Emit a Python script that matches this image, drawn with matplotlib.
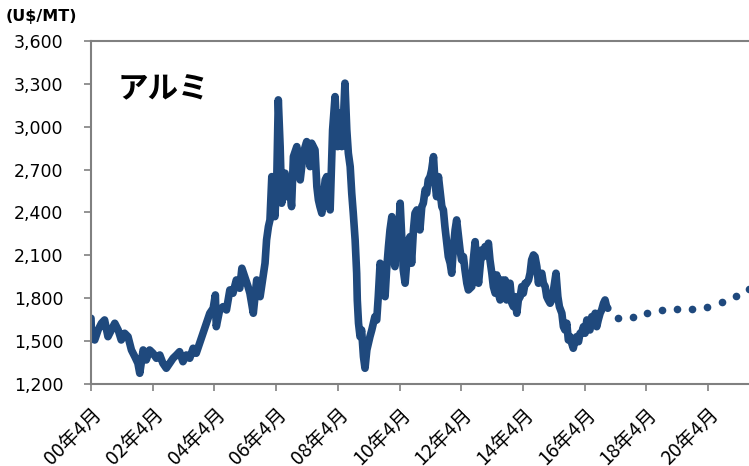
import numpy as np
import matplotlib.pyplot as plt

plt.rcParams['font.family'] = ['DejaVu Sans', 'Noto Sans CJK JP']

# aluminium price, US$/MT (decimal year, price)
years = [2000.25, 2000.27, 2000.37, 2000.48, 2000.59, 2000.69, 2000.80, 2000.91, 2001.02, 2001.13,
         2001.23, 2001.34, 2001.45, 2001.56, 2001.67, 2001.77, 2001.83, 2001.94, 2002.04, 2002.15,
         2002.26, 2002.37, 2002.48, 2002.58, 2002.69, 2002.80, 2002.91, 2003.02, 2003.12, 2003.23,
         2003.34, 2003.45, 2003.56, 2003.66, 2003.77, 2003.88, 2003.99, 2004.10, 2004.21, 2004.28,
         2004.31, 2004.42, 2004.53, 2004.64, 2004.75, 2004.85, 2004.96, 2005.07, 2005.14, 2005.23,
         2005.34,
         2005.40, 2005.51, 2005.62, 2005.73, 2005.84, 2005.89, 2005.94, 2006.00, 2006.05, 2006.11,
         2006.16, 2006.21, 2006.27, 2006.32, 2006.38, 2006.43, 2006.48, 2006.54, 2006.59, 2006.65,
         2006.70, 2006.75, 2006.81, 2006.92, 2007.03, 2007.13, 2007.24, 2007.35, 2007.40, 2007.51,
         2007.57, 2007.62, 2007.67, 2007.73, 2007.84, 2007.89, 2008.00, 2008.08, 2008.16, 2008.24,
         2008.30, 2008.38, 2008.43, 2008.48, 2008.54, 2008.59, 2008.65, 2008.70, 2008.75, 2008.81,
         2008.86, 2008.88, 2008.92, 2008.97, 2009.02, 2009.08, 2009.13, 2009.19, 2009.24, 2009.29,
         2009.35, 2009.40, 2009.45, 2009.51, 2009.56, 2009.62, 2009.67, 2009.73, 2009.78, 2009.83,
         2009.89, 2009.94, 2010.00, 2010.05, 2010.10, 2010.16, 2010.21, 2010.27, 2010.32, 2010.37,
         2010.43, 2010.48, 2010.54, 2010.59, 2010.64, 2010.70, 2010.75, 2010.81, 2010.86, 2010.91,
         2010.97, 2011.02, 2011.08, 2011.13, 2011.18, 2011.24, 2011.29, 2011.35, 2011.40, 2011.45,
         2011.51, 2011.56, 2011.62, 2011.67, 2011.72, 2011.78, 2011.83, 2011.89, 2011.94, 2011.99,
         2012.05, 2012.10, 2012.16, 2012.21, 2012.26, 2012.32, 2012.37, 2012.43, 2012.48,
         2012.59, 2012.64, 2012.70, 2012.75, 2012.81, 2012.86, 2012.91, 2012.97, 2013.02, 2013.08,
         2013.13, 2013.18, 2013.24, 2013.29, 2013.35, 2013.40, 2013.45, 2013.51, 2013.56, 2013.62,
         2013.67, 2013.72, 2013.78, 2013.83, 2013.89, 2013.94, 2013.99, 2014.05, 2014.10, 2014.16,
         2014.21, 2014.26, 2014.32, 2014.37, 2014.43, 2014.48, 2014.53, 2014.59, 2014.64, 2014.70,
         2014.75, 2014.80, 2014.86, 2014.91, 2014.97, 2015.02, 2015.07, 2015.13, 2015.18, 2015.24,
         2015.32, 2015.38, 2015.43, 2015.51, 2015.56, 2015.61, 2015.67, 2015.72, 2015.78, 2015.83,
         2015.88, 2015.94, 2015.99, 2016.05, 2016.10, 2016.15, 2016.21, 2016.26, 2016.32, 2016.37,
         2016.42, 2016.48, 2016.53, 2016.59, 2016.64, 2016.69, 2016.75, 2016.80, 2016.86, 2016.91,
         2016.96, 2017.00]
prices = [1660, 1520, 1508, 1578, 1625, 1648, 1531, 1578, 1625, 1578,
          1508, 1555, 1531, 1438, 1391, 1345, 1275, 1438, 1368, 1438,
          1415, 1380, 1403, 1345, 1310, 1345, 1380, 1403, 1426, 1356,
          1403, 1380, 1450, 1415, 1485, 1555, 1625, 1695, 1730, 1823,
          1601, 1718, 1741, 1718, 1858, 1835, 1928, 1870, 2010, 1951,
          1881,
          1835, 1695, 1928, 1811, 1975, 2045, 2208, 2301, 2348, 2651,
          2441, 2371, 2628, 3188, 2861, 2465, 2628, 2675, 2511, 2628,
          2558, 2441, 2791, 2861, 2628, 2815, 2896, 2721, 2885, 2838,
          2581, 2488, 2441, 2395, 2628, 2651, 2418, 2978, 3211, 2861,
          3095, 2861, 3048, 3305, 2978, 2815, 2721, 2535, 2395, 2208,
          1975, 1788, 1625, 1531, 1578, 1391, 1310, 1438, 1485, 1531,
          1578, 1625, 1671, 1648, 1811, 2045, 1998, 1858, 1811, 1998,
          2161, 2278, 2371, 2091, 2021, 2278, 2231, 2465, 2231, 1998,
          1905, 2045, 2208, 2231, 2045, 2278, 2395, 2418, 2371, 2278,
          2441, 2465, 2558, 2535, 2628, 2651, 2698, 2791, 2605, 2511,
          2651, 2558, 2441, 2418, 2301, 2185, 2091, 2045, 1975, 2138,
          2278, 2348, 2231, 2138, 2068, 2091, 1998, 1905, 1858,
          1881, 2068, 2196, 2021, 1905, 2021, 2138, 2091, 2161, 2138,
          2185, 2068, 1975, 1881, 1835, 1963, 1835, 1788, 1928, 1881,
          1928, 1788, 1881, 1905, 1765, 1741, 1811, 1695, 1788, 1811,
          1881, 1835, 1905, 1905, 1928, 1975, 2068, 2103, 2091, 2021,
          1905, 1951, 1975, 1905, 1881, 1811, 1788, 1765, 1788, 1858,
          1975, 1811, 1741, 1695, 1601, 1578, 1625, 1508, 1531, 1485,
          1450, 1508, 1531, 1496, 1555, 1555, 1601, 1555, 1648, 1601,
          1578, 1671, 1648, 1695, 1601, 1648, 1695, 1718, 1765, 1788,
          1741, 1730]

# forecast (dotted)
fc_years = [2017.32, 2017.81, 2018.28, 2018.76, 2019.24, 2019.74, 2020.23, 2020.70, 2021.17, 2021.58]
fc_prices = [1664, 1667, 1695, 1718, 1725, 1725, 1741, 1774, 1816, 1865]

ytick_vals = [1200, 1500, 1800, 2100, 2400, 2700, 3000, 3300, 3600]
xtick_years = [2000, 2002, 2004, 2006, 2008, 2010, 2012, 2014, 2016, 2018, 2020]
xtick_labels = ['00年4月', '02年4月', '04年4月', '06年4月', '08年4月', '10年4月',
                '12年4月', '14年4月', '16年4月', '18年4月', '20年4月']

blue = '#1f497d'
grey = '#808080'

fig = plt.figure(figsize=(7.49, 4.66), dpi=100)
ax = fig.add_axes([0.1215, 0.176, 0.896, 0.736])

ax.plot(years, prices, color=blue, lw=5.5, solid_joinstyle='round', solid_capstyle='round')
ax.plot(fc_years, fc_prices, 'o', color=blue, ms=5.5, mec='none')

ax.set_ylim(1200, 3600)
ax.set_xlim(2000.25, 2022.0)
ax.set_yticks(ytick_vals)
ax.set_yticklabels(['{:,}'.format(v) for v in ytick_vals], fontsize=12.5)
ax.set_xticks([y + 0.25 for y in xtick_years])
ax.set_xticklabels(xtick_labels, fontsize=14, rotation=45, ha='right',
                   rotation_mode='anchor', family=['Noto Sans CJK JP'])

for s in ['left', 'bottom', 'top']:
    ax.spines[s].set_color(grey)
    ax.spines[s].set_linewidth(1.5)
ax.spines['right'].set_visible(False)
ax.tick_params(axis='both', color=grey, width=1.2, length=5)
ax.tick_params(axis='y', pad=15)
ax.tick_params(axis='x', pad=9)

fig.text(0.007, 0.955, '(U$/MT)', fontsize=11.5, fontweight='bold')
ax.text(0.04, 0.86, 'アルミ', transform=ax.transAxes, fontsize=22, fontweight='bold',
        family=['Noto Sans CJK JP'], va='center')

fig.savefig('out.png', dpi=100)
